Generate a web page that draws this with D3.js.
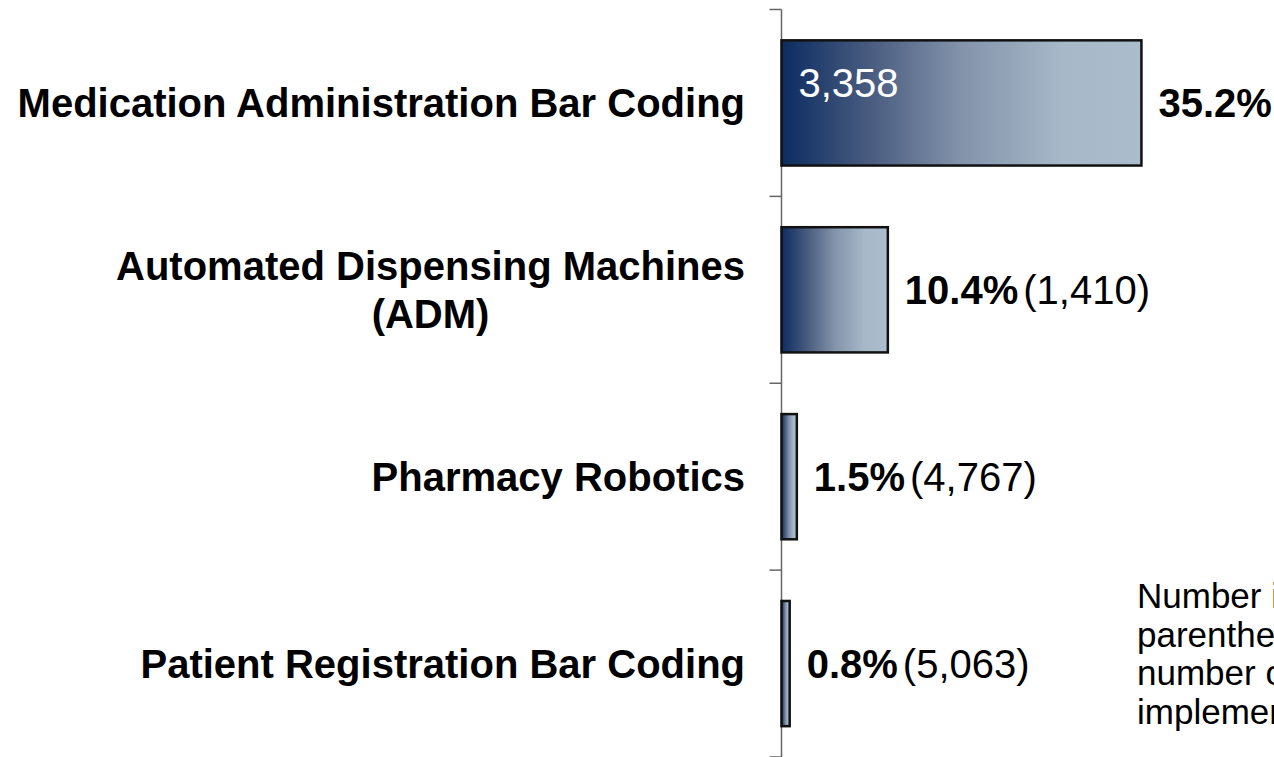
<!DOCTYPE html>
<html>
<head>
<meta charset="utf-8">
<script src="https://cdn.jsdelivr.net/npm/d3@7"></script>
<style>
  body { margin: 0; background: #fff; overflow: hidden; }
  text { font-family: Arial, "Liberation Sans", sans-serif; }
</style>
</head>
<body>
<div id="chart"></div>
<script>
//chart data
const categories = [
  ["Medication Administration Bar Coding"],
  ["Automated Dispensing Machines", "(ADM)"],
  ["Pharmacy Robotics"],
  ["Patient Registration Bar Coding"]
];
const percents = [35.2, 10.4, 1.5, 0.8];
const counts = [3358, 1410, 4767, 5063];
const noteLines = ["Number in", "parentheses", "number of", "implementers"];

const width = 1274;
const height = 757;
const axisX = 781.5;

const svg = d3.select("#chart")
  .append("svg")
  .attr("width", width)
  .attr("height", height)
  .style("display", "block");

//gradient for the bars (dark navy -> light steel)
const grad = svg.append("defs")
  .append("linearGradient")
  .attr("id", "barGrad")
  .attr("x1", "0%").attr("x2", "100%")
  .attr("y1", "0%").attr("y2", "0%");
grad.append("stop").attr("offset", "0%").attr("stop-color", "#0c2c61");
grad.append("stop").attr("offset", "25%").attr("stop-color", "#4a5d80");
grad.append("stop").attr("offset", "50%").attr("stop-color", "#8393aa");
grad.append("stop").attr("offset", "78%").attr("stop-color", "#a7b8c9");
grad.append("stop").attr("offset", "100%").attr("stop-color", "#abbccc");

const idx = categories.map((d, i) => i);

//scales
const x = d3.scaleLinear()
  .domain([0, 40])
  .range([axisX, axisX + 409]);

const y = d3.scaleBand()
  .domain(idx)
  .range([9.5, 757])
  .paddingInner(0.33)
  .paddingOuter(0.165);

const bandTop = i => y(i) - y.step() * y.paddingInner() / 2;

//vertical axis with ticks between categories
svg.append("line")
  .attr("x1", axisX).attr("x2", axisX)
  .attr("y1", y.range()[0]).attr("y2", y.range()[1])
  .attr("stroke", "#666").attr("stroke-width", 1.5);

const tickPos = idx.map(i => bandTop(i)).concat([y.range()[1]]);
svg.selectAll(".tick-line")
  .data(tickPos)
  .enter()
  .append("line")
  .attr("class", "tick-line")
  .attr("x1", axisX - 12).attr("x2", axisX)
  .attr("y1", d => d).attr("y2", d => d)
  .attr("stroke", "#666").attr("stroke-width", 1.5);

//bars
svg.selectAll(".bar")
  .data(idx)
  .enter()
  .append("rect")
  .attr("class", "bar")
  .attr("x", x(0))
  .attr("y", i => y(i))
  .attr("width", i => x(percents[i]) - x(0))
  .attr("height", y.bandwidth())
  .attr("fill", "url(#barGrad)")
  .attr("stroke", "#111")
  .attr("stroke-width", 2.5);

//category labels (right aligned block, lines centred)
const labelRight = 745;
const lineH = 48;
idx.forEach(i => {
  const lines = categories[i];
  const g = svg.append("text")
    .attr("font-size", "40px")
    .attr("font-weight", "bold")
    .attr("fill", "#000");
  const first = y(i) + y.bandwidth() / 2 - (lines.length - 1) * lineH / 2;
  const spans = lines.map((t, k) =>
    g.append("tspan")
      .attr("y", first + k * lineH)
      .attr("dy", "0.35em")
      .text(t));
  const widths = spans.map(s => s.node().getComputedTextLength());
  const maxW = d3.max(widths);
  spans.forEach(s => s.attr("x", labelRight - maxW / 2).attr("text-anchor", "middle"));
});

//value labels
const fmt = d3.format(",");
idx.forEach(i => {
  const barW = x(percents[i]) - x(0);
  const inside = barW > 200;
  const t = svg.append("text")
    .attr("x", x(percents[i]) + 17)
    .attr("y", y(i) + y.bandwidth() / 2)
    .attr("dy", "0.35em")
    .attr("font-size", "40px")
    .attr("fill", "#000");
  t.append("tspan")
    .attr("font-weight", "bold")
    .text(percents[i].toFixed(1) + "%");
  if (inside) {
    svg.append("text")
      .attr("x", x(0) + 17)
      .attr("y", y(i) + y.bandwidth() * 0.455)
      .attr("font-size", "40px")
      .attr("fill", "#fff")
      .text(fmt(counts[i]));
  } else {
    t.append("tspan")
      .attr("dx", 5)
      .text("(" + fmt(counts[i]) + ")");
  }
});

//note at the bottom right (runs off the page like the original)
svg.append("text")
  .attr("x", 1137)
  .attr("y", 608)
  .attr("font-size", "35px")
  .attr("fill", "#000")
  .selectAll("tspan")
  .data(noteLines)
  .enter()
  .append("tspan")
  .attr("x", 1137)
  .attr("dy", (d, k) => k === 0 ? 0 : 38.5)
  .text(d => d);
</script>
</body>
</html>
